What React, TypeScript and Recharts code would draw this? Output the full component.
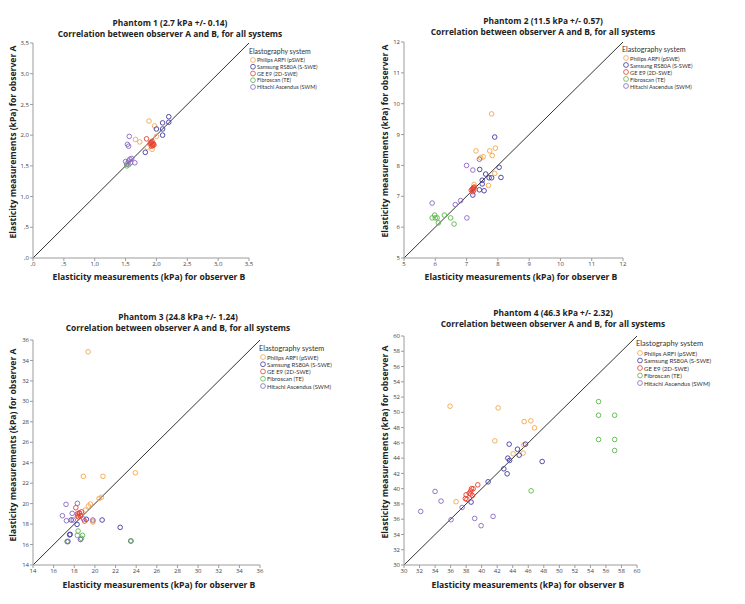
import React from "react";
import { ScatterChart, Scatter, XAxis, YAxis, ReferenceLine, Label, Legend } from "recharts";

type Pt = { x: number; y: number };
const pts = (a: number[][]): Pt[] => a.map(([x, y]) => ({ x, y }));

const systems = [
  "Philips ARFI (pSWE)",
  "Samsung RS80A (S-SWE)",
  "GE E9 (2D-SWE)",
  "Fibroscan (TE)",
  "Hitachi Ascendus (SWM)",
];
const colors = ["#f4a64c", "#3f3a9e", "#e6412f", "#5cb54c", "#8a66c2"];

// phantom 1
const p1Philips = pts([[1.88, 2.23], [1.97, 2.15], [1.66, 1.93], [1.73, 1.89], [1.93, 1.77], [2.0, 1.98], [1.85, 1.8]]);
const p1Samsung = pts([[2.2, 2.3], [2.1, 2.2], [2.2, 2.21], [2.0, 2.1], [2.1, 2.0], [2.1, 2.1], [1.82, 1.72]]);
const p1GE = pts([[1.84, 1.94], [1.92, 1.88], [1.93, 1.85], [1.94, 1.83], [1.92, 1.82], [1.95, 1.86], [1.9, 1.87], [1.93, 1.9], [1.96, 1.84]]);
const p1Fibro = pts([[1.52, 1.5], [1.55, 1.52]]);
const p1Hitachi = pts([[1.56, 1.98], [1.53, 1.85], [1.55, 1.82], [1.57, 1.61], [1.5, 1.57], [1.52, 1.53], [1.58, 1.55], [1.65, 1.55], [1.6, 1.62], [1.55, 1.58]]);

// phantom 2
const p2Philips = pts([[7.8, 9.67], [7.3, 8.47], [7.74, 8.47], [7.92, 8.56], [7.53, 8.28], [7.45, 8.25], [7.82, 8.32], [7.9, 7.74], [7.7, 7.35], [7.24, 7.38]]);
const p2Samsung = pts([[7.9, 8.92], [8.04, 7.94], [8.1, 7.61], [7.61, 7.72], [7.72, 7.6], [7.8, 7.6], [7.5, 7.52], [7.5, 7.4], [7.41, 7.21], [7.56, 7.18], [7.2, 7.04], [7.42, 7.87]]);
const p2GE = pts([[7.2, 7.25], [7.18, 7.22], [7.22, 7.28], [7.15, 7.2], [7.25, 7.3], [7.2, 7.15], [7.23, 7.2]]);
const p2Fibro = pts([[5.9, 6.3], [5.98, 6.39], [6.06, 6.3], [6.0, 6.3], [6.1, 6.14], [6.29, 6.39], [6.49, 6.3], [6.6, 6.1]]);
const p2Hitachi = pts([[5.9, 6.78], [6.64, 6.73], [6.81, 6.86], [7.01, 6.3], [7.0, 8.0], [7.2, 7.85], [7.41, 8.2]]);

// phantom 3
const p3Philips = pts([[19.34, 34.85], [18.88, 22.67], [20.78, 22.67], [23.92, 23.02], [20.63, 20.62], [20.4, 20.5], [19.56, 19.96], [19.37, 19.77], [19.07, 19.38], [19.82, 18.3], [19.8, 18.2]]);
const p3Samsung = pts([[20.7, 18.4], [22.45, 17.68], [17.6, 17.0], [17.55, 16.95], [23.48, 16.35], [17.7, 18.4], [18.27, 17.97], [19.17, 18.47]]);
const p3GE = pts([[18.15, 19.6], [18.47, 19.05], [18.5, 19.1], [18.3, 19.0], [18.6, 18.8], [18.4, 18.7], [18.3, 18.8], [19.0, 18.3], [18.7, 19.2]]);
const p3Fibro = pts([[18.37, 17.32], [18.3, 16.9], [18.8, 16.9], [18.7, 16.6], [18.6, 16.5], [23.5, 16.35], [17.3, 16.3]]);
const p3Hitachi = pts([[17.2, 19.93], [16.85, 18.82], [17.24, 18.33], [17.8, 19.05], [18.3, 20.03], [18.9, 18.5], [19.8, 18.4], [17.34, 16.28], [17.4, 16.3], [18.6, 16.5], [17.9, 18.4]]);

// phantom 4
const p4Philips = pts([[35.93, 50.8], [42.12, 50.58], [45.47, 48.79], [46.33, 48.88], [46.8, 47.97], [41.69, 46.26], [45.43, 45.74], [44.05, 44.57], [45.34, 44.66], [36.7, 38.29]]);
const p4Samsung = pts([[43.54, 45.83], [45.64, 45.83], [44.61, 45.17], [44.83, 44.39], [43.37, 44.0], [43.6, 43.7], [47.79, 43.56], [42.85, 42.6], [43.28, 41.95], [40.83, 40.9], [38.64, 38.24]]);
const p4GE = pts([[38.0, 39.2], [37.9, 38.7], [38.6, 39.7], [38.7, 40.0], [38.9, 40.0], [38.4, 39.4], [39.5, 40.5], [38.8, 39.1], [38.1, 38.6], [38.6, 39.3]]);
const p4Fibro = pts([[55.05, 51.41], [55.05, 49.62], [57.12, 49.62], [55.05, 46.44], [57.12, 46.44], [57.12, 45.0], [46.37, 39.72]]);
const p4Hitachi = pts([[34.0, 39.64], [34.77, 38.37], [32.15, 37.02], [37.48, 37.54], [36.06, 35.93], [39.1, 36.1], [41.47, 36.37], [39.93, 35.15]]);

const p1Ticks = [0, 0.5, 1, 1.5, 2, 2.5, 3, 3.5];
const p2Ticks = [5, 6, 7, 8, 9, 10, 11, 12];
const p3Ticks = [14, 16, 18, 20, 22, 24, 26, 28, 30, 32, 34, 36];
const p4Ticks = [30, 32, 34, 36, 38, 40, 42, 44, 46, 48, 50, 52, 54, 56, 58, 60];

const commaFmt = (v: number) => {
  const s = v.toFixed(1).replace(".", ",");
  return s.startsWith("0") ? s.slice(1) : s;
};

const FONT = "'Open Sans', sans-serif";
const LEG_FONT = "Lato, sans-serif";
const xLabelText = "Elasticity measurements (kPa) for observer B";
const yLabelText = "Elasticity measurements (kPa) for observer A";

type LegendPos = { x: number; y: number; step: number; fs: number; y0off: number };

type PanelProps = {
  left: number;
  top: number;
  width: number;
  height: number;
  margin: { top: number; right: number; bottom: number; left: number };
  yAxisW: number;
  ticks: number[];
  fmt?: (v: number) => string;
  series: Pt[][];
  title: string;
  titleX: number;
  titleY: number;
  xLab: [number, number];
  yLab: [number, number];
  leg: LegendPos;
};

const Panel = (p: PanelProps) => {
  const lo = p.ticks[0];
  const hi = p.ticks[p.ticks.length - 1];
  const axisStroke = "#9c9c9c";
  const tickStyle = { fontSize: 6, fill: "#444", fontFamily: FONT };
  const lw = 96;
  const lh = 58;
  const titleStyle: React.CSSProperties = {
    position: "absolute",
    left: p.titleX - 160,
    width: 320,
    textAlign: "center",
    fontFamily: FONT,
    fontWeight: 700,
    fontSize: 8.4,
    lineHeight: "11px",
    color: "#222",
    zIndex: 2,
    whiteSpace: "nowrap",
  };
  return (
    <div style={{ position: "absolute", left: p.left, top: p.top, width: p.width, height: p.height }}>
      <div style={{ ...titleStyle, top: p.titleY - 6 }}>{p.title}</div>
      <div style={{ ...titleStyle, top: p.titleY + 4.5 }}>
        Correlation between observer A and B, for all systems
      </div>
      <ScatterChart width={p.width} height={p.height} margin={p.margin}>
        <XAxis
          type="number"
          dataKey="x"
          domain={[lo, hi]}
          ticks={p.ticks}
          interval={0}
          allowDataOverflow
          tickFormatter={p.fmt}
          height={14}
          tickSize={3}
          tickMargin={1}
          stroke={axisStroke}
          tick={tickStyle}
        >
          <Label
            value={xLabelText}
            content={() => (
              <text
                x={p.xLab[0]}
                y={p.xLab[1]}
                textAnchor="middle"
                dominantBaseline="central"
                fontFamily={FONT}
                fontWeight={700}
                fontSize={8.6}
                fill="#222"
              >
                {xLabelText}
              </text>
            )}
          />
        </XAxis>
        <YAxis
          type="number"
          dataKey="y"
          domain={[lo, hi]}
          ticks={p.ticks}
          interval={0}
          allowDataOverflow
          tickFormatter={p.fmt}
          width={p.yAxisW}
          tickSize={3}
          tickMargin={1}
          stroke={axisStroke}
          tick={tickStyle}
        >
          <Label
            value={yLabelText}
            content={() => (
              <text
                x={p.yLab[0]}
                y={p.yLab[1]}
                transform={`rotate(-90, ${p.yLab[0]}, ${p.yLab[1]})`}
                textAnchor="middle"
                dominantBaseline="central"
                fontFamily={FONT}
                fontWeight={700}
                fontSize={8.6}
                fill="#222"
              >
                {yLabelText}
              </text>
            )}
          />
        </YAxis>
        <ReferenceLine
          segment={[
            { x: lo, y: lo },
            { x: hi, y: hi },
          ]}
          stroke="#333"
          strokeWidth={1}
          ifOverflow="visible"
        />
        {p.series.map((data, i) => (
          <Scatter
            key={systems[i]}
            name={systems[i]}
            data={data}
            isAnimationActive={false}
            shape={(sp: any) => (
              <circle cx={sp.cx} cy={sp.cy} r={2.3} fill="none" stroke={colors[i]} strokeWidth={0.9} />
            )}
          />
        ))}
        <Legend
          layout="vertical"
          align="center"
          verticalAlign="middle"
          wrapperStyle={{ left: p.leg.x - 5, top: p.leg.y - 6, width: lw, height: lh }}
          content={() => (
            <svg width={lw} height={lh} style={{ display: "block" }}>
              <text x={1} y={6} dominantBaseline="central" fontFamily={LEG_FONT} fontSize={p.leg.fs + 1.4} fill="#333">
                Elastography system
              </text>
              {systems.map((s, i) => {
                const cy = 6 + p.leg.y0off + i * p.leg.step;
                return (
                  <g key={s}>
                    <circle cx={5} cy={cy} r={2.4} fill="none" stroke={colors[i]} strokeWidth={0.8} />
                    <text x={9} y={cy} dominantBaseline="central" fontFamily={LEG_FONT} fontSize={p.leg.fs} fill="#333">
                      {s}
                    </text>
                  </g>
                );
              })}
            </svg>
          )}
        />
      </ScatterChart>
    </div>
  );
};

export default function App() {
  return (
    <div style={{ position: "absolute", left: 0, top: 0, width: 745, height: 604, background: "#fff" }}>
      <Panel
        left={0}
        top={0}
        width={372}
        height={300}
        margin={{ top: 43, right: 123, bottom: 28, left: 0 }}
        yAxisW={33}
        ticks={p1Ticks}
        fmt={commaFmt}
        series={[p1Philips, p1Samsung, p1GE, p1Fibro, p1Hitachi]}
        title="Phantom 1 (2.7 kPa +/- 0.14)"
        titleX={170}
        titleY={23}
        xLab={[149, 277]}
        yLab={[13, 142]}
        leg={{ x: 253, y: 51, step: 6.75, fs: 5.5, y0off: 9 }}
      />
      <Panel
        left={372}
        top={0}
        width={373}
        height={300}
        margin={{ top: 42, right: 122, bottom: 28, left: 0 }}
        yAxisW={32}
        ticks={p2Ticks}
        series={[p2Philips, p2Samsung, p2GE, p2Fibro, p2Hitachi]}
        title="Phantom 2 (11.5 kPa +/- 0.57)"
        titleX={171}
        titleY={21}
        xLab={[149, 277]}
        yLab={[13, 141]}
        leg={{ x: 254, y: 49, step: 7, fs: 5.7, y0off: 9 }}
      />
      <Panel
        left={0}
        top={300}
        width={372}
        height={304}
        margin={{ top: 40, right: 112, bottom: 25, left: 0 }}
        yAxisW={33}
        ticks={p3Ticks}
        series={[p3Philips, p3Samsung, p3GE, p3Fibro, p3Hitachi]}
        title="Phantom 3 (24.8 kPa +/- 1.24)"
        titleX={178}
        titleY={17}
        xLab={[159, 285]}
        yLab={[13, 145]}
        leg={{ x: 263, y: 48, step: 7.25, fs: 5.9, y0off: 9 }}
      />
      <Panel
        left={372}
        top={300}
        width={373}
        height={304}
        margin={{ top: 36, right: 108, bottom: 25, left: 0 }}
        yAxisW={32}
        ticks={p4Ticks}
        series={[p4Philips, p4Samsung, p4GE, p4Fibro, p4Hitachi]}
        title="Phantom 4 (46.3 kPa +/- 2.32)"
        titleX={181}
        titleY={13}
        xLab={[156, 285]}
        yLab={[13, 142]}
        leg={{ x: 268, y: 43, step: 7.5, fs: 6.1, y0off: 10 }}
      />
    </div>
  );
}
